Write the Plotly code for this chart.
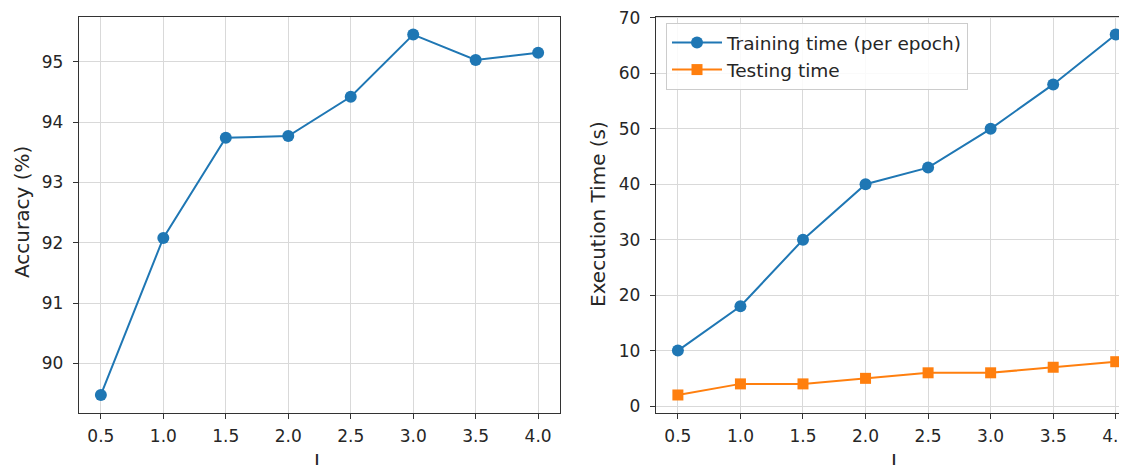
import plotly.graph_objects as go

# ---- data ----
L_values = [0.5, 1.0, 1.5, 2.0, 2.5, 3.0, 3.5, 4.0]
accuracy = [89.48, 92.08, 93.74, 93.77, 94.42, 95.45, 95.03, 95.15]
training_time = [10, 18, 30, 40, 43, 50, 58, 67]
testing_time = [2, 4, 4, 5, 6, 6, 7, 8]
x_ticks = [0.5, 1.0, 1.5, 2.0, 2.5, 3.0, 3.5, 4.0]
x_tick_text = ["0.5", "1.0", "1.5", "2.0", "2.5", "3.0", "3.5", "4.0"]
acc_ticks = [90, 91, 92, 93, 94, 95]
time_ticks = [0, 10, 20, 30, 40, 50, 60, 70]

VIEW_W, VIEW_H = 1127, 465
OFF = 8  # page body margin offset
W, H = VIEW_W - OFF, VIEW_H - OFF
BLUE = "#1f77b4"
ORANGE = "#ff7f0e"
FONT = "DejaVu Sans"
TXT = "#262626"

def px_x(p):
    return (p - OFF) / W

def px_y(p):
    return 1 - (p - OFF) / H

fig = go.Figure()
fig.add_trace(go.Scatter(
    x=L_values, y=accuracy, mode="lines+markers", showlegend=False,
    line=dict(color=BLUE, width=2), marker=dict(symbol="circle", size=12, color=BLUE),
    xaxis="x", yaxis="y", cliponaxis=False))
fig.add_trace(go.Scatter(
    x=L_values, y=training_time, mode="lines+markers", name="Training time (per epoch)",
    line=dict(color=BLUE, width=2), marker=dict(symbol="circle", size=12, color=BLUE),
    xaxis="x2", yaxis="y2", legendgroup="a", cliponaxis=False))
fig.add_trace(go.Scatter(
    x=L_values, y=testing_time, mode="lines+markers", name="Testing time",
    line=dict(color=ORANGE, width=2), marker=dict(symbol="square", size=11, color=ORANGE),
    xaxis="x2", yaxis="y2", legendgroup="b", cliponaxis=False))

ydom = [max(0.0, px_y(413)), px_y(16.5)]
axis_common = dict(
    showgrid=True, gridcolor="#d9d9d9", gridwidth=1, zeroline=False,
    showline=True, linecolor="#333333", linewidth=1.3,
    ticks="outside", ticklen=5, tickwidth=1.2, tickcolor="#333333",
    tickfont=dict(family=FONT, size=17, color=TXT), automargin=False,
    ticklabeloverflow="allow",
)

px_per_unit = 125.1
x2_left = 656

fig.update_layout(
    width=W, height=H,
    margin=dict(l=0, r=0, t=0, b=0),
    paper_bgcolor="white", plot_bgcolor="white",
    font=dict(family=FONT, color=TXT),
    xaxis=dict(domain=[px_x(79), px_x(560)], range=[0.325, 4.175],
               tickvals=x_ticks, ticktext=x_tick_text, mirror=True, anchor="y",
               ticklabelstandoff=2, **axis_common),
    yaxis=dict(domain=ydom, range=[89.18, 95.75], tickvals=acc_ticks,
               mirror=True, anchor="x", ticklabelstandoff=6, **axis_common),
    xaxis2=dict(domain=[px_x(x2_left), 1.0],
                range=[0.325, 0.325 + (VIEW_W - x2_left) / px_per_unit],
                tickvals=x_ticks, ticktext=x_tick_text, mirror=True, anchor="y2",
                ticklabelstandoff=2, **axis_common),
    yaxis2=dict(domain=ydom, range=[-1.25, 70.25], tickvals=time_ticks,
                mirror=False, anchor="x2", ticklabelstandoff=6, **axis_common),
    legend=dict(x=px_x(666), y=px_y(23), xanchor="left", yanchor="top",
                bgcolor="rgba(255,255,255,0.85)", bordercolor="#cccccc", borderwidth=1,
                font=dict(family=FONT, size=18.5, color=TXT),
                traceorder="grouped", tracegroupgap=0, itemwidth=50),
    annotations=[
        dict(text="Accuracy (%)", x=px_x(22), y=px_y(212), xref="paper", yref="paper",
             textangle=-90, showarrow=False, xanchor="center", yanchor="middle",
             font=dict(family=FONT, size=20, color=TXT)),
        dict(text="Execution Time (s)", x=px_x(598), y=px_y(214), xref="paper", yref="paper",
             textangle=-90, showarrow=False, xanchor="center", yanchor="middle",
             font=dict(family=FONT, size=20, color=TXT)),
        dict(text="L", x=px_x(320), y=px_y(447), xref="paper", yref="paper",
             showarrow=False, xanchor="center", yanchor="top",
             font=dict(family=FONT, size=20, color=TXT)),
        dict(text="L", x=px_x(897), y=px_y(447), xref="paper", yref="paper",
             showarrow=False, xanchor="center", yanchor="top",
             font=dict(family=FONT, size=20, color=TXT)),
    ],
)

fig.write_html("out.html")
